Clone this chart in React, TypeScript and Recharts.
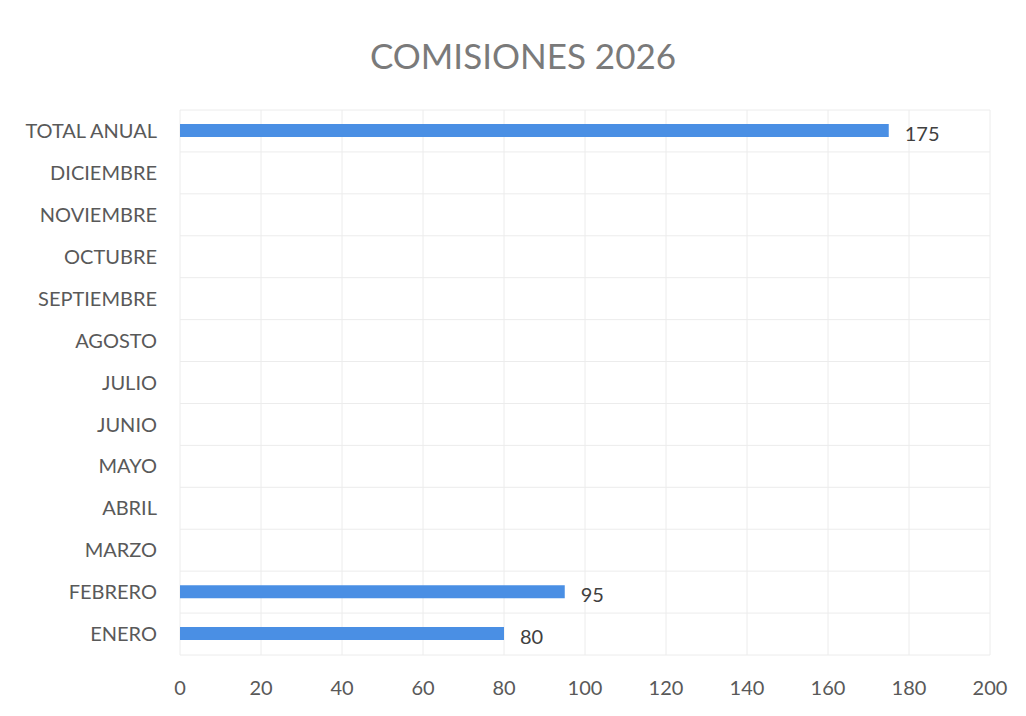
import { BarChart, Bar, XAxis, YAxis, CartesianGrid, LabelList } from 'recharts'

const MONTHS = [
  'ENERO', 'FEBRERO', 'MARZO', 'ABRIL', 'MAYO', 'JUNIO', 'JULIO',
  'AGOSTO', 'SEPTIEMBRE', 'OCTUBRE', 'NOVIEMBRE', 'DICIEMBRE', 'TOTAL ANUAL',
]
const VALUES: (number | null)[] = [80, 95, null, null, null, null, null, null, null, null, null, null, 175]
const X_TICKS = [0, 20, 40, 60, 80, 100, 120, 140, 160, 180, 200]

const data = MONTHS.map((name, i) => ({ name, value: VALUES[i] }))

const FONT = 'Lato, "Open Sans", sans-serif'

export default function App() {
  return (
    <div style={{ position: 'absolute', left: 0, top: 0, width: 1026, height: 716, background: '#fff', fontFamily: FONT }}>
      <div
        style={{
          position: 'absolute', left: 0, width: 1046, top: 34, textAlign: 'center',
          fontSize: 35, color: '#7a7a7a', lineHeight: '42px',
        }}
      >
        COMISIONES 2026
      </div>
      <BarChart
        width={1026}
        height={716}
        data={data}
        layout="vertical"
        margin={{ top: 110, right: 36, bottom: 20, left: 0 }}
        barCategoryGap={0}
      >
        <CartesianGrid
          stroke="#ececec"
          horizontalCoordinatesGenerator={({ offset }: any) => {
            const n = MONTHS.length
            const step = offset.height / n
            return Array.from({ length: n + 1 }, (_, i) => offset.top + i * step)
          }}
        />
        <XAxis
          type="number"
          domain={[0, 200]}
          ticks={X_TICKS}
          axisLine={false}
          tickLine={false}
          height={41}
          tickMargin={20}
          tick={{ fill: '#595959', fontSize: 20, fontFamily: FONT }}
        />
        <YAxis
          type="category"
          dataKey="name"
          reversed
          width={180}
          axisLine={false}
          tickLine={false}
          tickMargin={17}
          interval={0}
          tick={{ fill: '#595959', fontSize: 20, fontFamily: FONT }}
        />
        <Bar dataKey="value" fill="#4a8fe4" barSize={13} isAnimationActive={false}>
          <LabelList
            dataKey="value"
            position="right"
            offset={16}
            fill="#404040"
            fontSize={20}
            fontFamily={FONT}
            dy={3}
          />
        </Bar>
      </BarChart>
    </div>
  )
}
